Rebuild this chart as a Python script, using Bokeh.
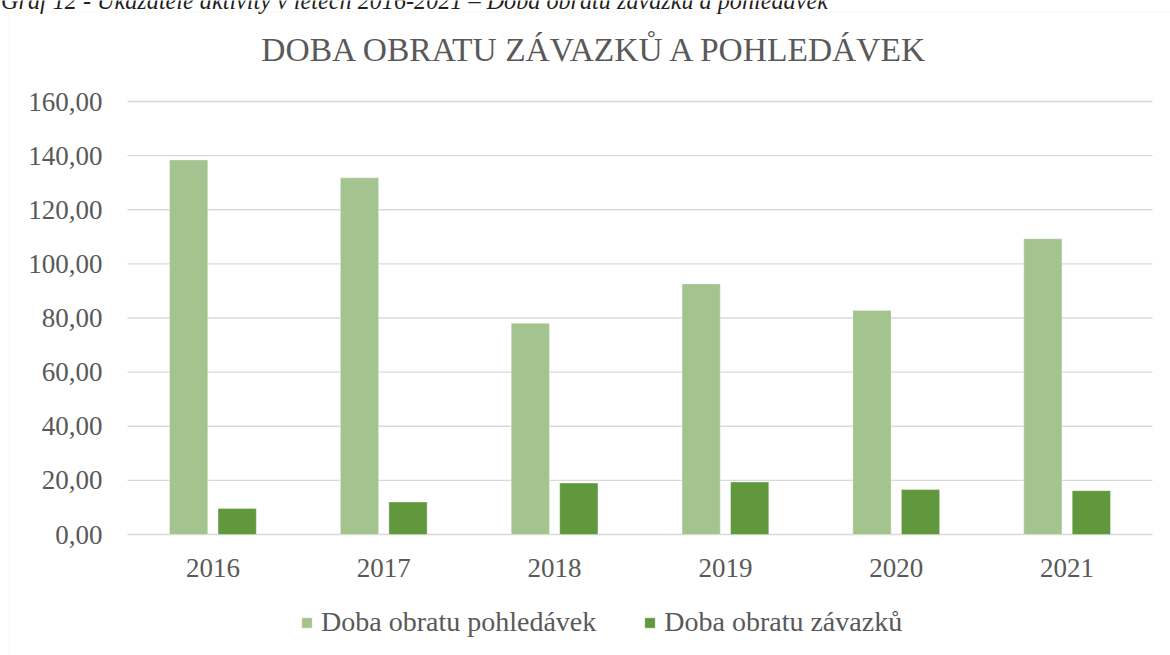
from bokeh.plotting import figure
from bokeh.models import (Range1d, FixedTicker, Label, BoxAnnotation,
                          Legend, LegendItem, ColumnDataSource)
from bokeh.transform import dodge
from bokeh.embed import file_html
from bokeh.resources import INLINE

# ---- data ----
years = ["2016", "2017", "2018", "2019", "2020", "2021"]
doba_pohledavek = [138.4, 131.8, 78.1, 92.6, 82.8, 109.3]
doba_zavazku = [9.6, 12.0, 19.0, 19.4, 16.6, 16.2]
y_ticks = [0, 20, 40, 60, 80, 100, 120, 140, 160]
y_tick_labels = ["0,00", "20,00", "40,00", "60,00", "80,00", "100,00", "120,00", "140,00", "160,00"]
series_names = ["Doba obratu pohledávek", "Doba obratu závazků"]
chart_title = "DOBA OBRATU ZÁVAZKŮ A POHLEDÁVEK"
caption = "Graf 12 - Ukazatele aktivity v letech 2016-2021 – Doba obratu závazků a pohledávek"

LIGHT = "#A4C48F"
DARK = "#62983D"
GRID = "#D9D9D9"
TEXT = "#595959"
FONT = "Liberation Serif"

# ---- layout (pixels) ----
W, H = 1170, 655
PL, PR, PT, PB = 127, 1152, 101, 534      # plot area edges
Y_MAX = 160
n = len(years)
ux = (PR - PL) / n                         # px per category
uy = (PB - PT) / Y_MAX                     # px per value unit

x_centers = [i + 0.5 for i in range(n)]
src = ColumnDataSource(dict(xc=x_centers, pohl=doba_pohledavek, zav=doba_zavazku))

p = figure(x_range=Range1d(-PL / ux, (W - PL) / ux),
           y_range=Range1d(-(H - PB) / uy, Y_MAX + PT / uy),
           width=W, height=H, output_backend="svg", toolbar_location=None,
           title=None, min_border=0)
p.outline_line_color = None
p.background_fill_color = "white"
p.border_fill_color = "white"
p.xgrid.visible = False
p.ygrid.visible = False

# horizontal gridlines across the plot area only
p.segment(x0=0, x1=n, y0=y_ticks, y1=y_ticks, line_color=GRID, line_width=1.3)

r1 = p.vbar(x=dodge("xc", -0.142), top="pohl", width=0.224, source=src,
            fill_color=LIGHT, line_color="white", line_alpha=0.35, line_width=1)
r2 = p.vbar(x=dodge("xc", 0.142), top="zav", width=0.224, source=src,
            fill_color=DARK, line_color="white", line_alpha=0.35, line_width=1)

# axes drawn at fixed positions inside the canvas
xa, ya = p.xaxis[0], p.yaxis[0]
xa.fixed_location = 0
ya.fixed_location = 0
xa.ticker = FixedTicker(ticks=x_centers)
xa.major_label_overrides = {x: y for x, y in zip(x_centers, years)}
ya.ticker = FixedTicker(ticks=y_ticks)
ya.major_label_overrides = {t: s for t, s in zip(y_ticks, y_tick_labels)}
for ax in (xa, ya):
    ax.axis_line_color = None
    ax.major_tick_line_color = None
    ax.minor_tick_line_color = None
    ax.major_tick_out = 0
    ax.major_tick_in = 0
    ax.major_label_text_font = FONT
    ax.major_label_text_font_size = "27px"
    ax.major_label_text_color = TEXT
ya.major_label_standoff = 25
xa.major_label_standoff = 24

# outline of the chart object
p.add_layout(BoxAnnotation(left=8.5, right=W + 50, top=H - 11.5, bottom=-50,
                           left_units="screen", right_units="screen",
                           top_units="screen", bottom_units="screen",
                           fill_color=None, fill_alpha=0, line_color=GRID, line_width=1))

# title (vertical middle of the text box)
p.add_layout(Label(x=595.5, y=H - 49.4, x_units="screen", y_units="screen",
                   text=chart_title, text_font=FONT, text_font_size="33.5px",
                   text_color=TEXT, text_align="center", text_baseline="middle"))
# caption above the chart object (cut off by the page top)
p.add_layout(Label(x=0.5, y=H + 0.4, x_units="screen", y_units="screen",
                   text=caption, text_font=FONT, text_font_size="24.2px",
                   text_font_style="italic", text_color="#1f1f1f",
                   text_align="left", text_baseline="middle"))

legend = Legend(items=[LegendItem(label=series_names[0], renderers=[r1]),
                       LegendItem(label=series_names[1], renderers=[r2])],
                location=(300, H - 638), orientation="horizontal",
                padding=0, margin=0, spacing=47, label_standoff=8,
                glyph_width=13, glyph_height=13,
                label_text_font=FONT, label_text_font_size="28px",
                label_text_color=TEXT,
                border_line_color=None, background_fill_alpha=0)
p.add_layout(legend, "center")

open("out.html", "w").write(file_html(p, INLINE))
